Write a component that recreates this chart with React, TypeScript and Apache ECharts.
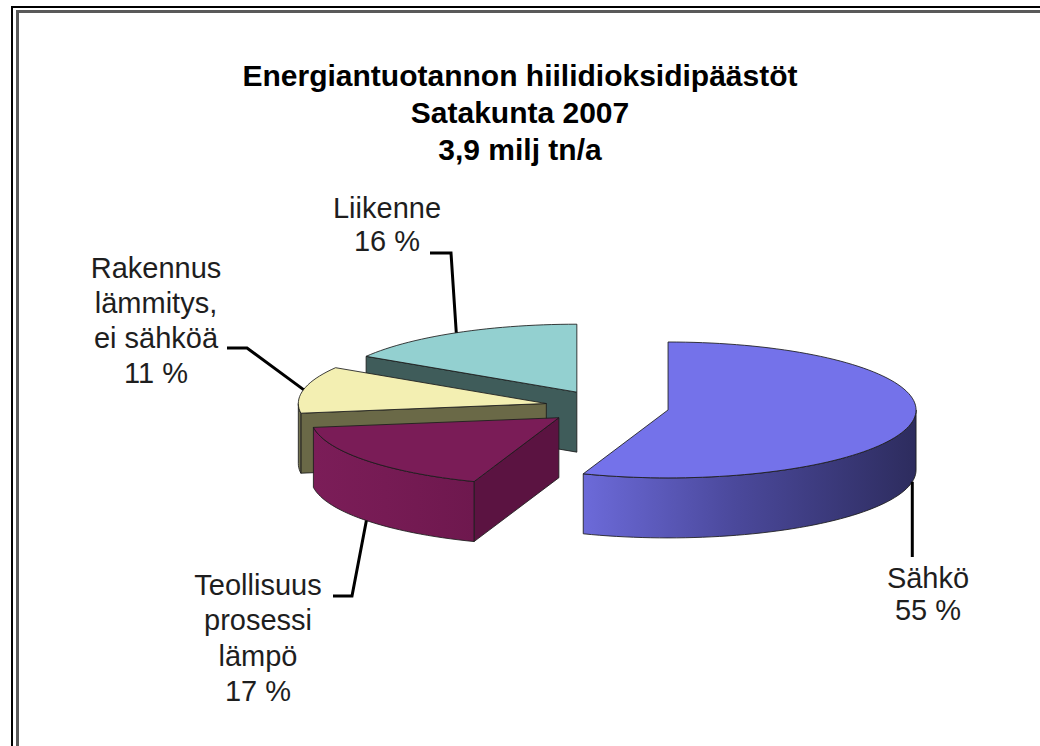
import React, { useEffect, useRef } from "react";
import * as echarts from "echarts";

// ---- data ----
const titleLines = ["Energiantuotannon hiilidioksidipäästöt", "Satakunta 2007", "3,9 milj tn/a"];
const categories = ["Sähkö", "Teollisuus\nprosessi\nlämpö", "Rakennus\nlämmitys,\nei sähköä", "Liikenne"];
const shares = [55, 17, 11, 16];

// ---- styles ----
const topColors = ["#7472ea", "#7a1c57", "#f3efb2", "#93d0d0"];
const wallColors: any[] = [
  ["#6c6ad9", "#4b499c", "#2d2c5e"],
  ["#7b1d58", "#761b54", "#6e184e"],
  ["#7a7955", "#737250", "#6c6b4a"],
  ["#3f5d5b", "#3f5d5b", "#3f5d5b"],
];
const radialColors = ["#4a48a0", "#5b1341", "#6a6947", "#3f5c5a"];

// ---- layout ----
const CX = 607;
const CY = 407;
const R = 248;
const K = 0.274;
const DEPTH = 60;
const EXPLODE = 62;
const anchorOnWall = [true, true, false, false];
const labelLayout = [
  { x: 928, y: 562, lh: 32, route: [[0, 557]] },
  { x: 258, y: 567, lh: 35.5, route: [[352, 596], [333, 596]] },
  { x: 156, y: 250, lh: 35, route: [[247, 348], [227, 348]] },
  { x: 387, y: 191, lh: 33, route: [[451, 253], [430, 253]] },
];

const rad = (d: number) => (d * Math.PI) / 180;

export default function App() {
  const ref = useRef<HTMLDivElement>(null);
  useEffect(() => {
    if (!ref.current) return;
    const chart = echarts.init(ref.current, null, { renderer: "svg" });
    const total = shares.reduce((a, b) => a + b, 0);
    const starts: number[] = [];
    let acc = 0;
    shares.forEach((v) => {
      starts.push((acc / total) * 360);
      acc += v;
    });

    const renderItem = (params: any, api: any) => {
      const i = params.dataIndex;
      const v = api.value(0);
      const a0 = starts[i];
      const a1 = a0 + (v / total) * 360;
      const mid = (a0 + a1) / 2;
      const cx = CX + EXPLODE * Math.sin(rad(mid));
      const cy = CY - EXPLODE * Math.cos(rad(mid)) * K;
      const P = (a: number, dz: number) => [cx + R * Math.sin(rad(a)), cy - R * K * Math.cos(rad(a)) + dz];
      const arc = (s: number, e: number, dz: number) => {
        const n = Math.max(2, Math.ceil(Math.abs(e - s) / 2));
        const pts: number[][] = [];
        for (let j = 0; j <= n; j++) pts.push(P(s + ((e - s) * j) / n, dz));
        return pts;
      };
      const base = Math.round(cy) * 10;
      const edge = { stroke: "#1c1c1c", lineWidth: 1, strokeOpacity: 0.85, lineJoin: "round" };
      const children: any[] = [];
      const radial = (a: number) => {
        const p = P(a, 0);
        return [[cx, cy], p, [p[0], p[1] + DEPTH], [cx, cy + DEPTH]];
      };
      if (Math.sin(rad(a0)) < -0.01) {
        children.push({ type: "polygon", z2: base + 1, shape: { points: radial(a0) }, style: { fill: radialColors[i], ...edge } });
      }
      if (Math.sin(rad(a1)) > 0.01) {
        children.push({ type: "polygon", z2: base + 1, shape: { points: radial(a1) }, style: { fill: radialColors[i], ...edge } });
      }
      if (a0 < 270 && a1 > 90) {
        const s = Math.max(a0, 90);
        const e = Math.min(a1, 270);
        const pts = [...arc(s, e, 0), ...arc(e, s, DEPTH)];
        const c = wallColors[i];
        children.push({
          type: "polygon",
          z2: base + 2,
          shape: { points: pts },
          style: {
            fill: new echarts.graphic.LinearGradient(0, 0, 1, 0, [
              { offset: 0, color: c[0] },
              { offset: 0.45, color: c[1] },
              { offset: 1, color: c[2] },
            ]),
            ...edge,
          },
        });
      }
      children.push({
        type: "polygon",
        z2: base + 3,
        shape: { points: [[cx, cy], ...arc(a0, a1, 0)] },
        style: { fill: topColors[i], ...edge },
      });

      // leader + label
      const L = labelLayout[i];
      const anc = P(mid, anchorOnWall[i] ? DEPTH : 0);
      const route = L.route.map((p) => [p[0] === 0 ? anc[0] : p[0], p[1]]);
      children.push({
        type: "polyline",
        z2: 90000,
        shape: { points: [anc, ...route] },
        style: { stroke: "#000", lineWidth: 3, fill: "none" },
      });
      children.push({
        type: "text",
        z2: 90001,
        style: {
          text: `${params.name ?? categories[i]}\n${v} %`,
          x: L.x,
          y: L.y,
          align: "center",
          verticalAlign: "top",
          lineHeight: L.lh,
          fontSize: 29,
          fontFamily: "Liberation Sans, Arial, sans-serif",
          fill: "#1e1e1e",
        },
      });
      return { type: "group", children };
    };

    chart.setOption({
      animation: false,
      backgroundColor: "#ffffff",
      title: {
        text: titleLines.join("\n"),
        left: "center",
        top: 57,
        padding: 0,
        textStyle: {
          fontSize: 30,
          fontWeight: "bold",
          fontFamily: "Liberation Sans, Arial, sans-serif",
          color: "#000",
          lineHeight: 37,
        },
      },
      graphic: [
        { type: "rect", shape: { x: 12, y: 7, width: 1100, height: 1000 }, style: { fill: "none", stroke: "#000", lineWidth: 2 } },
        { type: "rect", shape: { x: 17.5, y: 11.5, width: 1100, height: 1000 }, style: { fill: "none", stroke: "#5a5a5a", lineWidth: 3 } },
      ],
      series: [
        {
          type: "custom",
          coordinateSystem: "none",
          silent: true,
          renderItem,
          data: shares.map((v, i) => ({ name: categories[i], value: [v] })),
        },
      ],
    });
    return () => chart.dispose();
  }, []);
  return <div ref={ref} style={{ position: "absolute", left: 0, top: 0, width: 1040, height: 746 }} />;
}
